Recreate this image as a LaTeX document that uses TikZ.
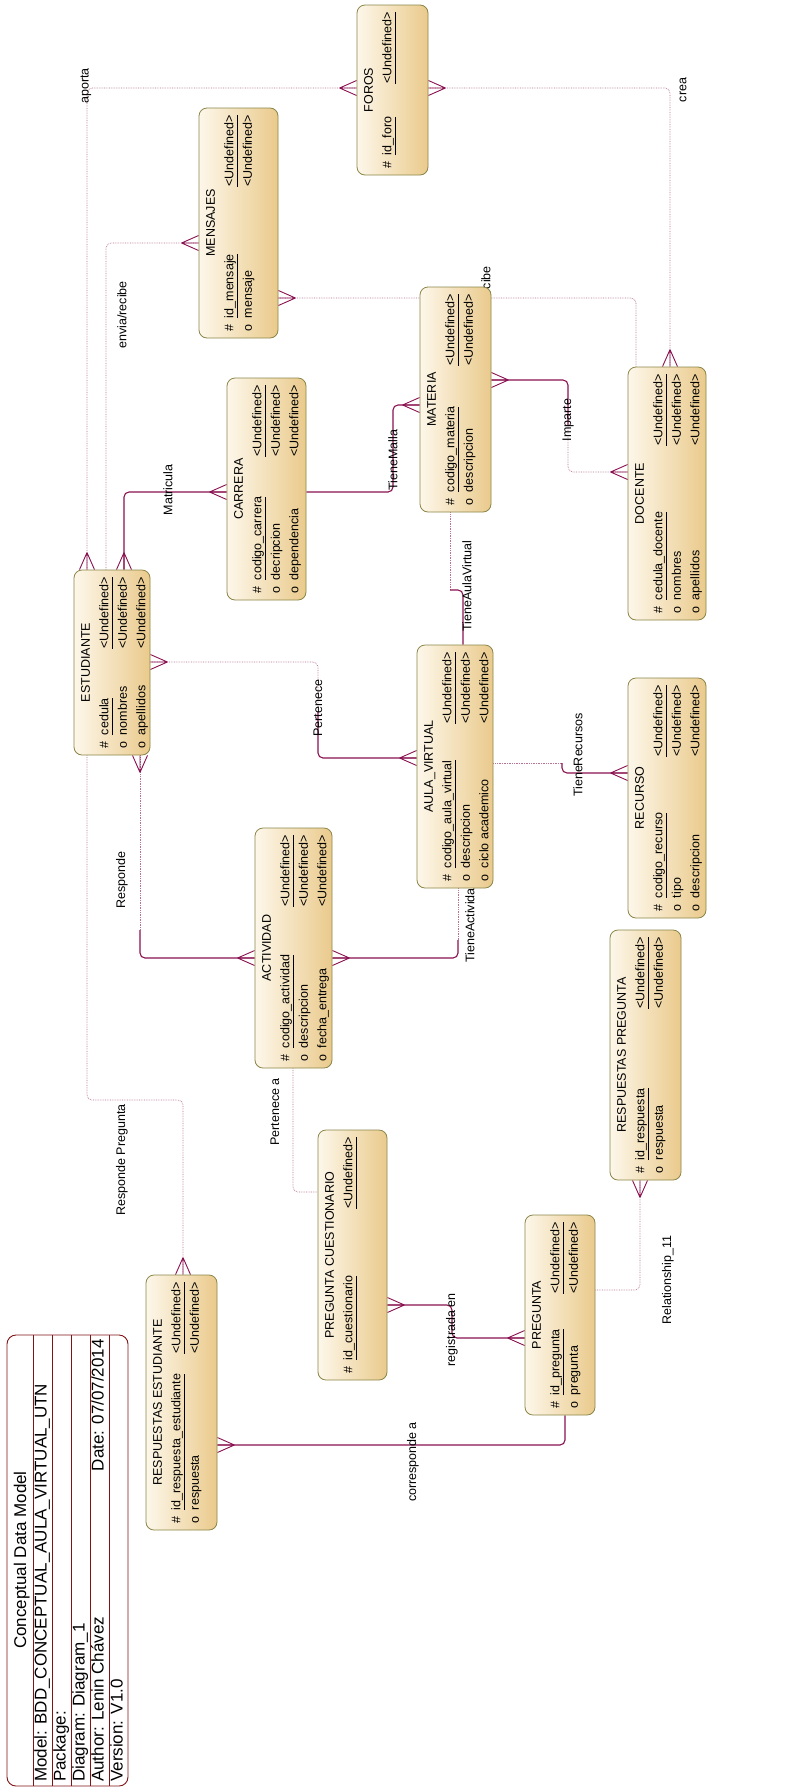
\documentclass[tikz,border=0pt]{standalone}
\usepackage{fontspec}
\setmainfont{Liberation Sans}
\usetikzlibrary{backgrounds}

\definecolor{relc}{RGB}{139,18,80}
\definecolor{entlight}{RGB}{253,247,234}
\definecolor{entdark}{RGB}{234,202,140}
\definecolor{entborder}{RGB}{138,134,72}
\definecolor{tbc}{RGB}{128,20,20}

\newcommand{\entfont}{\fontsize{12.5}{18.5}\selectfont}
\newcommand{\tbfont}{\fontsize{17}{19}\selectfont}
\newcommand{\pk}[1]{\underline{#1\vphantom{g}}}
% entity body: visual width, visual height, title, rows
\newcommand{\entbody}[4]{%
  \begin{minipage}[c][#1pt][t]{#2pt}\centering\vspace*{3pt}%
  \begin{tabular*}{\dimexpr#2pt-14pt\relax}{@{}l@{\hspace{6pt}}l@{\extracolsep{\fill}}l@{}}
  \multicolumn{3}{@{}c@{}}{#3}\\
  #4
  \end{tabular*}%
  \end{minipage}}

\tikzset{
  entity/.style={rotate=90, inner sep=0pt, draw=entborder, line width=0.8pt,
    rounded corners=8pt, left color=entlight, right color=entdark, font=\entfont},
  mand/.style={draw=relc, line width=1.1pt, rounded corners=5pt},
  opt/.style={draw=relc!60, line width=0.7pt, densely dotted, rounded corners=5pt},
  crowline/.style={draw=relc, line width=0.9pt},
  crow/.pic={\draw[crowline] (-17,0) -- (0,7.5) (-17,0) -- (0,-7.5) (-17,0) -- (0,0);},
  lab/.style={rotate=90, font=\entfont, inner sep=1pt},
  tbline/.style={draw=tbc, line width=0.9pt},
  tbtext/.style={rotate=90, font=\tbfont, inner sep=0pt, text height=12.2pt, text depth=0pt}
}

\begin{document}
\begin{tikzpicture}[x=1pt, y=-1pt]
\useasboundingbox (0,0) rectangle (799,1791);

% entities
\node[entity] (foros) at (392.5,90) {\entbody{71}{170}{FOROS}{%
  \#&\pk{id\_foro}&\pk{<Undefined>}}};
\node[entity] (mensajes) at (238.5,223) {\entbody{79}{230}{MENSAJES}{%
  \#&\pk{id\_mensaje}&\pk{<Undefined>}\\
  o&mensaje&<Undefined>}};
\node[entity] (materia) at (455.5,399.5) {\entbody{71}{225}{MATERIA}{%
  \#&\pk{codigo\_materia}&\pk{<Undefined>}\\
  o&descripcion&<Undefined>}};
\node[entity] (carrera) at (266.5,489) {\entbody{79}{222}{CARRERA}{%
  \#&\pk{codigo\_carrera}&\pk{<Undefined>}\\
  o&decripcion&<Undefined>\\
  o&dependencia&<Undefined>}};
\node[entity] (docente) at (667,493.5) {\entbody{78}{253}{DOCENTE}{%
  \#&\pk{cedula\_docente}&\pk{<Undefined>}\\
  o&nombres&<Undefined>\\
  o&apellidos&<Undefined>}};
\node[entity] (estud) at (112,662.5) {\entbody{76}{185}{ESTUDIANTE}{%
  \#&\pk{cedula}&\pk{<Undefined>}\\
  o&nombres&<Undefined>\\
  o&apellidos&<Undefined>}};
\node[entity] (aula) at (455,766.5) {\entbody{76}{243}{AULA\_VIRTUAL}{%
  \#&\pk{codigo\_aula\_virtual}&\pk{<Undefined>}\\
  o&descripcion&<Undefined>\\
  o&ciclo academico&<Undefined>}};
\node[entity] (recurso) at (667,798) {\entbody{78}{240}{RECURSO}{%
  \#&\pk{codigo\_recurso}&\pk{<Undefined>}\\
  o&tipo&<Undefined>\\
  o&descripcion&<Undefined>}};
\node[entity] (activ) at (293.5,948) {\entbody{77}{240}{ACTIVIDAD}{%
  \#&\pk{codigo\_actividad}&\pk{<Undefined>}\\
  o&descripcion&<Undefined>\\
  o&fecha\_entrega&<Undefined>}};
\node[entity] (resppreg) at (645.5,1055) {\entbody{71}{250}{RESPUESTAS PREGUNTA}{%
  \#&\pk{id\_respuesta}&\pk{<Undefined>}\\
  o&respuesta&<Undefined>}};
\node[entity] (pregcuest) at (352.5,1255) {\entbody{69}{250}{PREGUNTA CUESTIONARIO}{%
  \#&\pk{id\_cuestionario}&\pk{<Undefined>}}};
\node[entity] (pregunta) at (560,1315) {\entbody{70}{200}{PREGUNTA}{%
  \#&\pk{id\_pregunta}&\pk{<Undefined>}\\
  o&pregunta&<Undefined>}};
\node[entity] (respest) at (181.5,1402.5) {\entbody{71}{255}{RESPUESTAS ESTUDIANTE}{%
  \#&\pk{id\_respuesta\_estudiante}&\pk{<Undefined>}\\
  o&respuesta&<Undefined>}};

% title block
\draw[tbline, rounded corners=9pt] (7,1335) rectangle (128,1786);
\foreach \x in {33,52,71,90,109}
  \draw[tbline] (\x,1335) -- (\x,1786);
\node[tbtext] (tbhead) at (20,1560) {Conceptual Data Model};
\node[tbtext, anchor=west] (tbmodel) at (40.5,1782) {Model: BDD\_CONCEPTUAL\_AULA\_VIRTUAL\_UTN};
\node[tbtext, anchor=west] (tbpack) at (59.5,1782) {Package:};
\node[tbtext, anchor=west] (tbdiag) at (78.5,1782) {Diagram: Diagram\_1};
\node[tbtext, anchor=west] (tbauth) at (97.5,1782) {Author: Lenin Chávez};
\node[tbtext, anchor=east] (tbdate) at (97.5,1339) {Date: 07/07/2014};
\node[tbtext, anchor=west] (tbvers) at (116.5,1782) {Version: V1.0};

\begin{scope}[on background layer]
\fill[white] (0,0) rectangle (799,1791);

% aporta
\draw[opt] (estud.east -| 87,0) |- (foros.north |- 0,88);
\pic[rotate=-90] at (estud.east -| 87,0) {crow};
\pic at (foros.north |- 0,88) {crow};
\node[lab] (laporta) at (86,86) {aporta};

% envia/recibe
\draw[opt] (estud.east -| 106,0) |- (mensajes.north |- 0,243);
\pic at (mensajes.north |- 0,243) {crow};
\node[lab] (lenvia) at (122,315) {envia/recibe};
\draw[opt] (mensajes.south |- 0,298) -| (docente.east -| 636,0);
\pic[rotate=180] at (mensajes.south |- 0,298) {crow};
\node[lab] (lenvia2) at (486,300) {envia/recibe};

% crea
\draw[opt] (foros.south |- 0,88) -| (docente.east -| 670,0);
\pic[rotate=180] at (foros.south |- 0,88) {crow};
\pic[rotate=-90] at (docente.east -| 670,0) {crow};
\node[lab] (lcrea) at (683,90) {crea};

% Matricula
\draw[mand] (estud.east -| 124,0) |- (carrera.north |- 0,492);
\pic[rotate=-90] at (estud.east -| 124,0) {crow};
\pic at (carrera.north |- 0,492) {crow};
\node[lab] (lmatr) at (168,490) {Matricula};

% TieneMalla
\draw[mand] (carrera.south |- 0,492) -- (393,492) |- (materia.north |- 0,405);
\pic at (materia.north |- 0,405) {crow};
\node[lab] (lmalla) at (393,460) {TieneMalla};

% Imparte
\draw[mand] (materia.south |- 0,380) -| (568,425);
\draw[opt] (568,425) |- (docente.north |- 0,472);
\pic[rotate=180] at (materia.south |- 0,380) {crow};
\pic at (docente.north |- 0,472) {crow};
\node[lab] (limparte) at (568,420) {Imparte};

% TieneAulaVirtual
\draw[opt] (materia.west -| 450,0) -- (450,590);
\draw[mand] (450,590) -| (aula.east -| 463,0);
\node[lab] (laulav) at (467,586) {TieneAulaVirtual};

% Pertenece
\draw[opt] (estud.south |- 0,662) -| (318,712);
\draw[mand] (318,712) |- (aula.north |- 0,758);
\pic[rotate=180] at (estud.south |- 0,662) {crow};
\pic at (aula.north |- 0,758) {crow};
\node[lab] (lpert) at (318,708) {Pertenece};

% TieneRecursos
\draw[opt] (aula.south |- 0,763) -- (562,763);
\draw[mand] (562,763) |- (recurso.north |- 0,773);
\pic at (recurso.north |- 0,773) {crow};
\node[lab] (lrecur) at (578,755) {TieneRecursos};

% TieneActividad
\draw[opt] (aula.west -| 458,0) -- (458,940);
\draw[mand] (458,940) |- (activ.south |- 0,958);
\pic[rotate=180] at (activ.south |- 0,958) {crow};
\node[lab] (lactiv) at (470,922) {TieneActividad};

% Responde
\draw[opt] (estud.west -| 140,0) -- (140,930);
\draw[mand] (140,930) |- (activ.north |- 0,958);
\pic[rotate=90] at (estud.west -| 140,0) {crow};
\pic at (activ.north |- 0,958) {crow};
\node[lab] (lresp) at (122,880) {Responde};

% Responde Pregunta
\draw[opt] (estud.west -| 87,0) |- (183,1100) -- (respest.east -| 183,0);
\pic[rotate=-90] at (respest.east -| 183,0) {crow};
\node[lab] (lresppreg) at (122,1160) {Responde Pregunta};

% Pertenece a
\draw[opt] (activ.west -| 293,0) |- (pregcuest.north |- 0,1192);
\node[lab] (lperta) at (275,1112) {Pertenece a};

% registrada en
\draw[mand] (pregcuest.south |- 0,1305) -| (452,1338) -- (pregunta.north |- 0,1338);
\pic[rotate=180] at (pregcuest.south |- 0,1305) {crow};
\pic at (pregunta.north |- 0,1338) {crow};
\node[lab] (lregis) at (452,1330) {registrada en};

% corresponde a
\draw[mand] (pregunta.west -| 565,0) |- (respest.south |- 0,1445);
\pic[rotate=180] at (respest.south |- 0,1445) {crow};
\node[lab] (lcorr) at (413,1462) {corresponde a};

% Relationship_11
\draw[opt] (pregunta.south |- 0,1290) -| (resppreg.west -| 640,0);
\pic[rotate=90] at (resppreg.west -| 640,0) {crow};
\node[lab] (lrel) at (668,1280) {Relationship\_11};
\end{scope}
\end{tikzpicture}
\end{document}
